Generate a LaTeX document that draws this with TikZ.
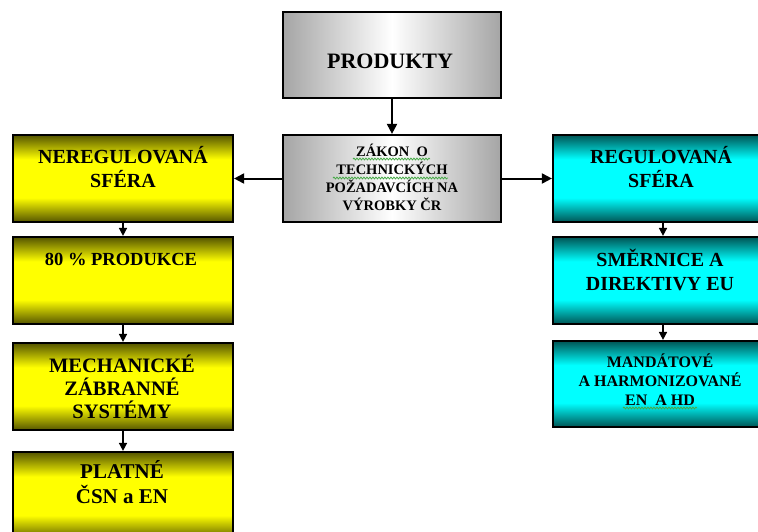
\documentclass[tikz,border=0pt]{standalone}
\usepackage{fontspec}
\setmainfont{Liberation Serif}
\usetikzlibrary{arrows.meta,decorations.pathmorphing}
\definecolor{oliveD}{RGB}{85,85,0}
\definecolor{yelL}{RGB}{255,255,0}
\definecolor{tealD}{RGB}{0,85,85}
\definecolor{cyanL}{RGB}{0,255,255}
\definecolor{greyD}{RGB}{165,165,165}
\definecolor{squig}{RGB}{70,170,70}
% dark edges fading into a bright band in the middle (box spans 25bp..75bp)
\pgfdeclareverticalshading{yelband}{100bp}{color(0bp)=(oliveD); color(25bp)=(oliveD);
  color(39bp)=(yelL); color(61bp)=(yelL); color(75bp)=(oliveD); color(100bp)=(oliveD)}
\pgfdeclareverticalshading{cyanband}{100bp}{color(0bp)=(tealD); color(25bp)=(tealD);
  color(39bp)=(cyanL); color(61bp)=(cyanL); color(75bp)=(tealD); color(100bp)=(tealD)}
\begin{document}
\begin{tikzpicture}[x=1pt,y=-1pt,
  box/.style={rectangle,draw=black,line width=2.2pt,inner sep=0pt},
  yelbox/.style={box,shading=yelband,minimum width=220pt},
  cyanbox/.style={box,shading=cyanband,minimum width=220pt},
  greybox/.style={box,left color=greyD,right color=greyD,middle color=white,minimum width=218pt},
  lbl/.style={font=\bfseries\fontsize{20}{24}\selectfont,align=center,inner sep=0pt,anchor=base},
  conn/.style={line width=2pt,-{Triangle[length=10pt,width=10pt]}},
  sconn/.style={line width=1.6pt,-{Triangle[length=8pt,width=8pt]}},
  spell/.style={squig,line width=0.8pt,decorate,decoration={snake,amplitude=0.9pt,segment length=3pt}}]
\clip (0,0) rectangle (758,531);
\fill[white] (0,0) rectangle (758,531);

% boxes
\node[greybox,minimum height=86pt] (prod) at (392,55) {};
\node[greybox,minimum height=87pt] (zakon) at (392,178.5) {};
\node[yelbox,minimum height=87pt] (nereg) at (123,178.5) {};
\node[yelbox,minimum height=87pt] (p80) at (123,280.5) {};
\node[yelbox,minimum height=87pt] (mech) at (123,386.5) {};
\node[yelbox,minimum height=88pt] (plat) at (123,496) {};
\node[cyanbox,minimum height=87pt] (reg) at (663,178.5) {};
\node[cyanbox,minimum height=87pt] (smer) at (663,280.5) {};
\node[cyanbox,minimum height=86pt] (mand) at (663,384) {};

% connectors
\draw[conn] (prod.south) -- (zakon.north);
\draw[conn] (zakon.west) -- (nereg.east);
\draw[conn] (zakon.east) -- (reg.west);
\draw[sconn] (nereg.south) -- (p80.north);
\draw[sconn] (p80.south) -- (mech.north);
\draw[sconn] (mech.south) -- (plat.north);
\draw[sconn] (reg.south) -- (smer.north);
\draw[sconn] (smer.south) -- (mand.north);

% labels (anchored at the baseline of the last line)
\node[lbl,font=\bfseries\fontsize{22}{26}\selectfont] (tprod) at (390,68) {PRODUKTY};
\node[lbl,font=\bfseries\fontsize{14.5}{18}\selectfont] (tzakon) at (392,210)
  {ZÁKON\ \ O\\TECHNICKÝCH\\POŽADAVCÍCH NA\\VÝROBKY ČR};
\node[lbl] (tnereg) at (123,187) {NEREGULOVANÁ\\SFÉRA};
\node[lbl,font=\bfseries\fontsize{18.5}{22}\selectfont] (tp80) at (121,265) {80 \% PRODUKCE};
\node[lbl,font=\bfseries\fontsize{20.5}{23}\selectfont] (tmech) at (122,418) {MECHANICKÉ\\ZÁBRANNÉ\\SYSTÉMY};
\node[lbl,font=\bfseries\fontsize{21}{25}\selectfont] (tplat) at (122,503) {PLATNÉ\\ČSN a EN};
\node[lbl] (treg) at (661,187) {REGULOVANÁ\\SFÉRA};
\node[lbl] (tsmer) at (660,290) {SMĚRNICE A\\DIREKTIVY EU};
\node[lbl,font=\bfseries\fontsize{16}{19}\selectfont] (tmand) at (660,405)
  {MANDÁTOVÉ\\A HARMONIZOVANÉ\\EN\ \ A HD};

% proofing underlines
\draw[spell] (353,159) -- (430,159);
\draw[spell] (333,178) -- (448,178);
\draw[spell] (623,408) -- (697,408);
\end{tikzpicture}
\end{document}
